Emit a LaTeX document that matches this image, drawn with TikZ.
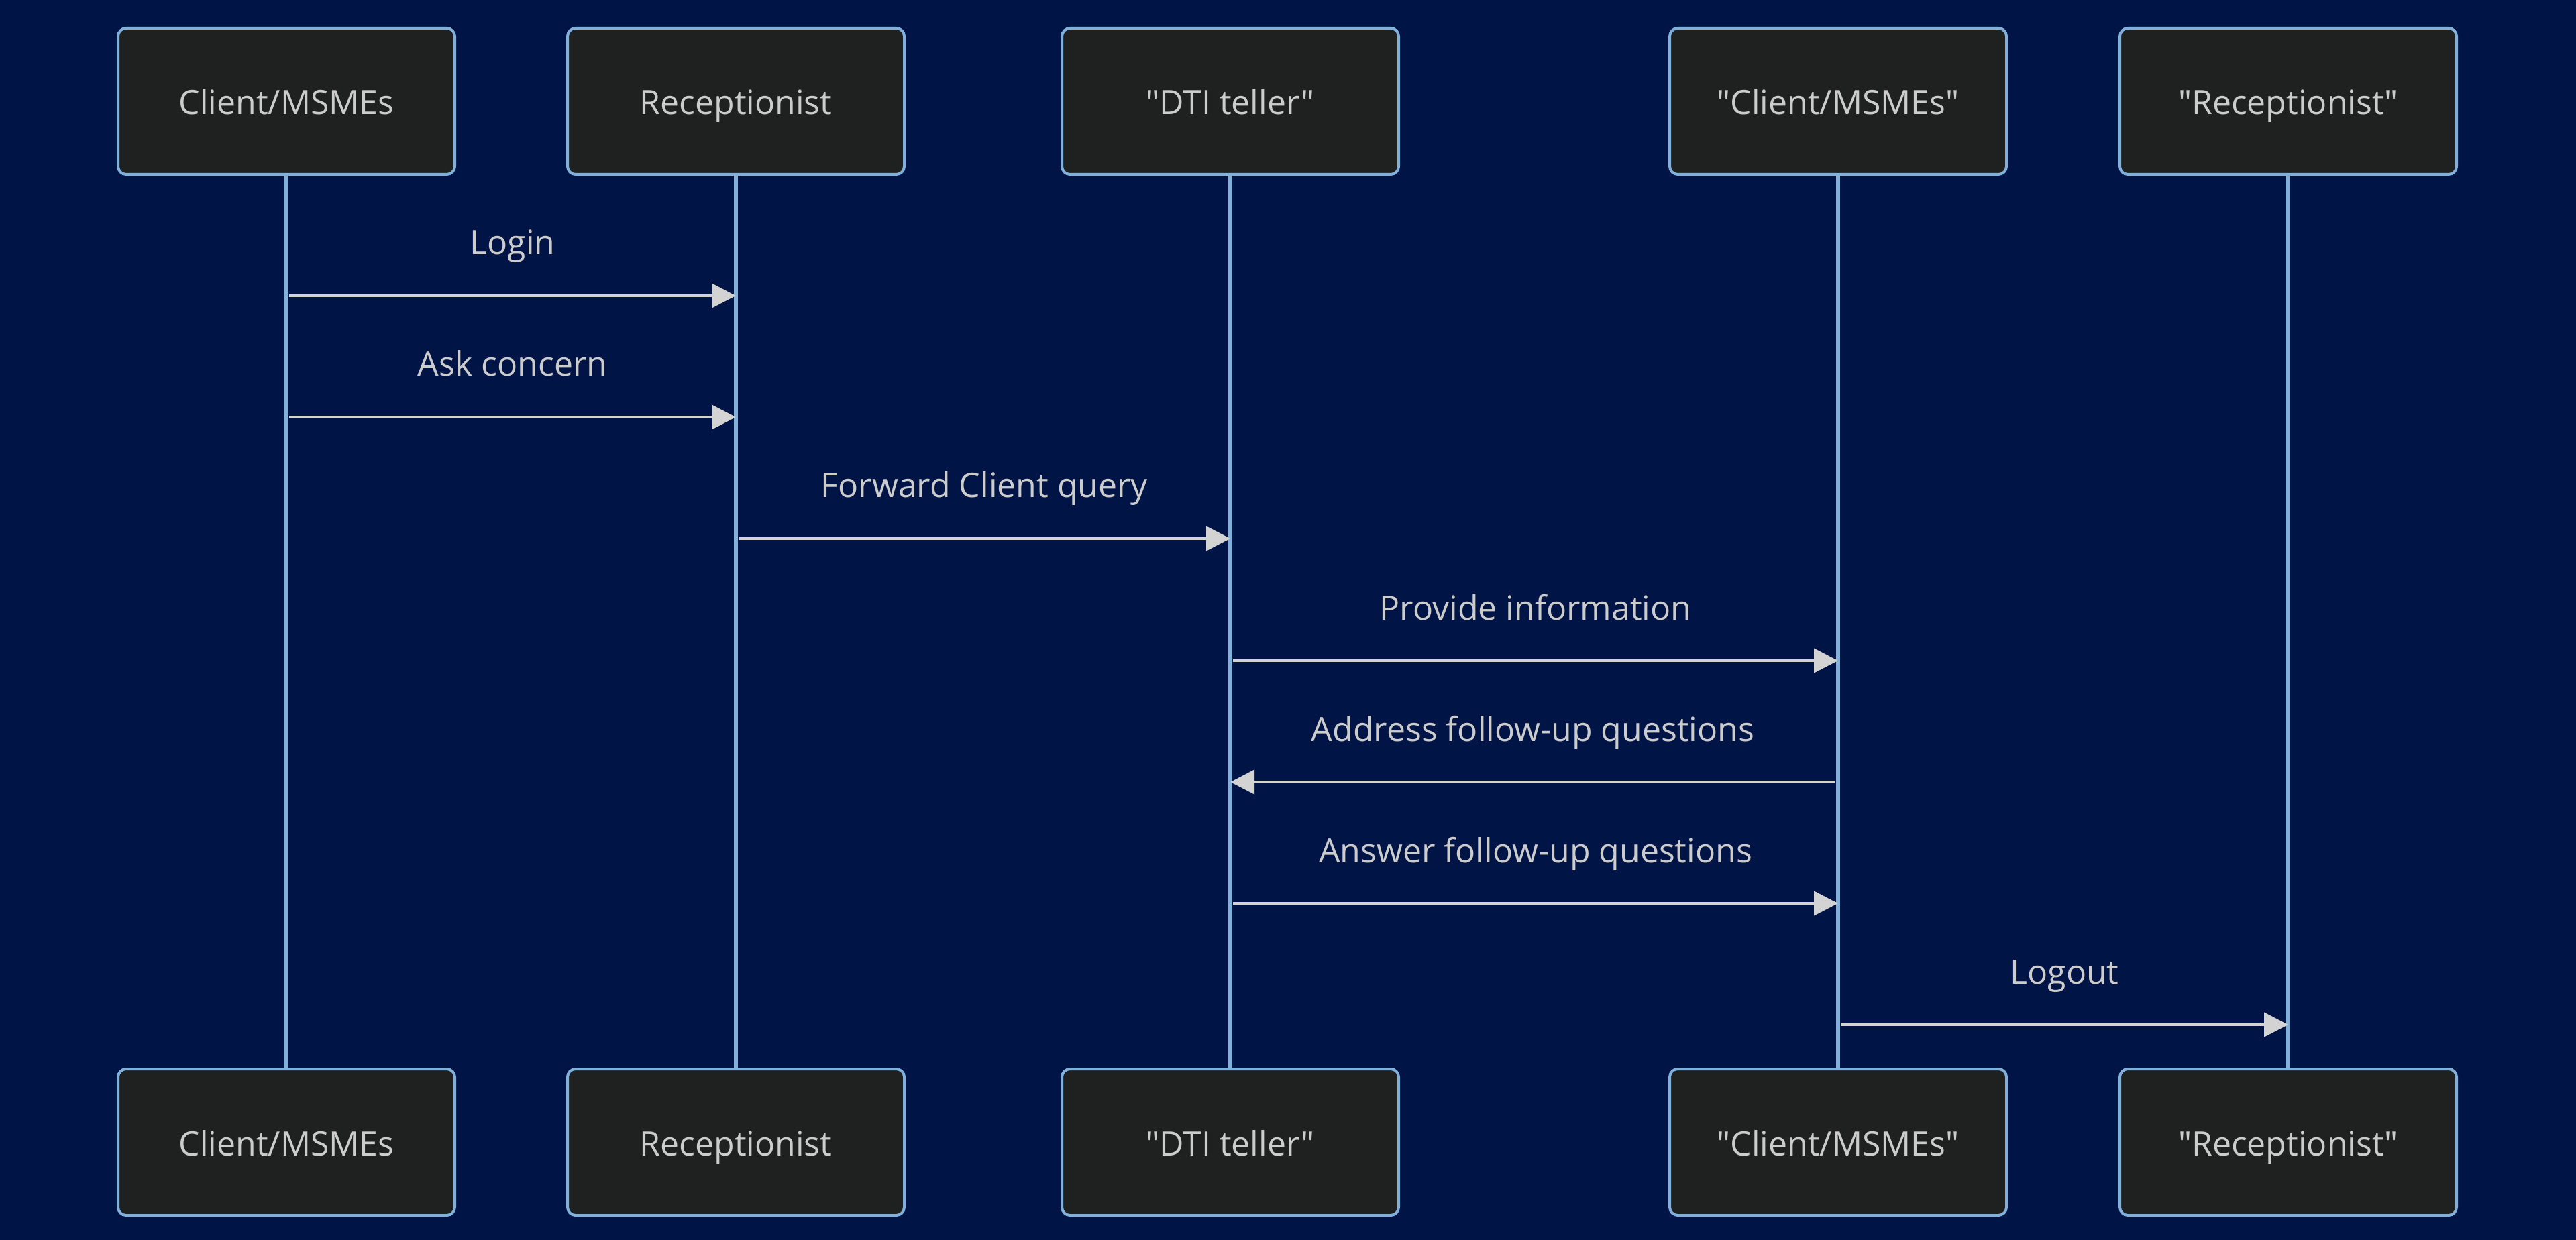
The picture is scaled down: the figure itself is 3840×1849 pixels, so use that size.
\documentclass[tikz,border=0pt]{standalone}
\usepackage{fontspec}
\setmainfont{Open Sans}[Ligatures=TeXOff]
\usepackage{tikz}
\usetikzlibrary{arrows.meta, positioning}
\definecolor{bgblue}{HTML}{001446}
\definecolor{actfill}{HTML}{1F2020}
\definecolor{actline}{HTML}{81B1DB}
\definecolor{msgline}{HTML}{D3D3D3}
\definecolor{txtgrey}{HTML}{CCCCCC}

\begin{document}
\begin{tikzpicture}[x=0.25pt, y=-0.25pt,
	actor/.style={draw=actline, fill=actfill, line width=1pt, rounded corners=3pt,
		minimum width=125.5pt, minimum height=54.5pt, text=txtgrey,
		font=\fontsize{12.5}{15}\selectfont, text height=12pt, text depth=2pt},
	life/.style={draw=actline, line width=1.6pt},
	msg/.style={draw=msgline, line width=1.1pt, -{Triangle[length=9pt, width=9pt]}},
	lbl/.style={text=txtgrey, font=\fontsize{12.5}{15}\selectfont,
		text height=9pt, text depth=2.5pt, inner sep=0pt}]
	% 背景
	\fill[bgblue] (0,0) rectangle (3840,1849);
	
	% 参与者（上）
	\node[actor] (cli) at (427,151) {Client/MSMEs};
	\node[actor] (rec) at (1097,151) {Receptionist};
	\node[actor] (dti) at (1834,151) {"DTI teller"};
	\node[actor] (cliq) at (2740,151) {"Client/MSMEs"};
	\node[actor] (recq) at (3411,151) {"Receptionist"};
	
	% 参与者（下）
	\node[actor] (cliB) at (427,1703) {Client/MSMEs};
	\node[actor] (recB) at (1097,1703) {Receptionist};
	\node[actor] (dtiB) at (1834,1703) {"DTI teller"};
	\node[actor] (cliqB) at (2740,1703) {"Client/MSMEs"};
	\node[actor] (recqB) at (3411,1703) {"Receptionist"};
	
	% 生命线
	\draw[life] (cli) -- (cliB);
	\draw[life] (rec) -- (recB);
	\draw[life] (dti) -- (dtiB);
	\draw[life] (cliq) -- (cliqB);
	\draw[life] (recq) -- (recqB);
	
	% 消息
	\draw[msg] ([xshift=1pt]cli.south |- 0,441) -- (rec.south |- 0,441)
		node[lbl, midway, yshift=18.5pt] {Login};
	\draw[msg] ([xshift=1pt]cli.south |- 0,622) -- (rec.south |- 0,622)
		node[lbl, midway, yshift=18.5pt] {Ask concern};
	\draw[msg] ([xshift=1pt]rec.south |- 0,803) -- (dti.south |- 0,803)
		node[lbl, midway, yshift=18.5pt] {Forward Client query};
	\draw[msg] ([xshift=1pt]dti.south |- 0,985) -- (cliq.south |- 0,985)
		node[lbl, midway, yshift=18.5pt] {Provide information};
	\draw[msg] ([xshift=-1pt]cliq.south |- 0,1166) -- (dti.south |- 0,1166)
		node[lbl, midway, yshift=18.5pt] {Address follow-up questions};
	\draw[msg] ([xshift=1pt]dti.south |- 0,1347) -- (cliq.south |- 0,1347)
		node[lbl, midway, yshift=18.5pt] {Answer follow-up questions};
	\draw[msg] ([xshift=1pt]cliq.south |- 0,1528) -- (recq.south |- 0,1528)
		node[lbl, midway, yshift=18.5pt] {Logout};
\end{tikzpicture}
\end{document}
